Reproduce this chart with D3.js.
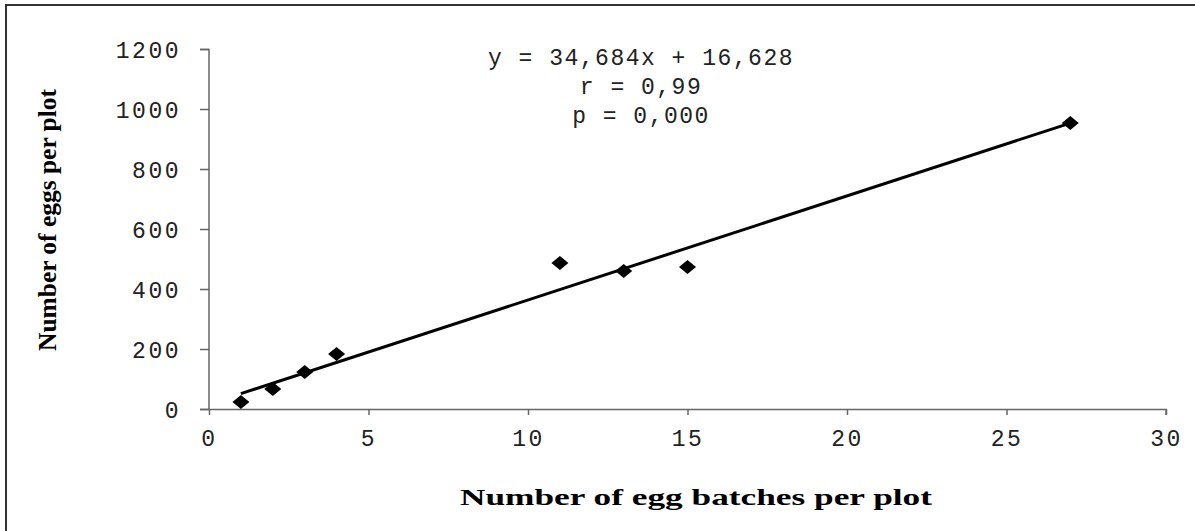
<!DOCTYPE html>
<html>
<head>
<meta charset="utf-8">
<script src="https://cdn.jsdelivr.net/npm/d3@7"></script>
<style>
  html, body { margin: 0; padding: 0; background: #fff; overflow: hidden; }
  .axis text { font-family: "Liberation Mono", monospace; font-size: 23px; fill: #222; letter-spacing: 2.5px; }
  .axis path, .axis line { stroke: #666; stroke-width: 1.5; }
</style>
</head>
<body>
<div id="chart"></div>
<script>
// Data
const batches = [1, 2, 3, 4, 11, 13, 15, 27];
const eggs = [23, 67, 123, 183, 487, 460, 473, 953];
const xTicks = [0, 5, 10, 15, 20, 25, 30];
const yTicks = [0, 200, 400, 600, 800, 1000, 1200];
const slope = 34.684;
const intercept = 16.628;
const statLines = ["y = 34,684x + 16,628", "r = 0,99", "p = 0,000"];

const W = 1195, H = 531;
const margin = { top: 49, right: 29, bottom: 122, left: 209 };
const width = W - margin.left - margin.right;
const height = H - margin.top - margin.bottom;

const svg = d3.select("#chart").append("svg")
  .attr("width", W)
  .attr("height", H);

// frame (only top/left edges fall inside the picture)
svg.append("rect")
  .attr("x", 6).attr("y", 5)
  .attr("width", W + 10).attr("height", H + 10)
  .attr("fill", "none")
  .attr("stroke", "#333")
  .attr("stroke-width", 2);

const g = svg.append("g")
  .attr("transform", `translate(${margin.left},${margin.top})`);

const x = d3.scaleLinear().domain([0, 30]).range([0, width]);
const y = d3.scaleLinear().domain([0, 1200]).range([height, 0]);

const xAxis = d3.axisBottom(x).tickValues(xTicks).tickFormat(d3.format("d"))
  .tickSize(6).tickPadding(15).tickSizeOuter(6);
const yAxis = d3.axisLeft(y).tickValues(yTicks).tickFormat(d3.format("d"))
  .tickSize(9).tickPadding(19).tickSizeOuter(9);

g.append("g").attr("class", "axis x")
  .attr("transform", `translate(0,${height})`)
  .call(xAxis)
  .call(a => a.select(".domain").attr("d", `M-9,0.5H${width}V6`));

g.append("g").attr("class", "axis y")
  .call(yAxis)
  .call(a => a.select(".domain").attr("d", `M-9,0.5H0V${height}`))
  .selectAll("text").attr("dy", "0.35em");

// regression line
const xExt = d3.extent(batches);
g.append("path")
  .datum(xExt.map(v => ({ x: v, y: slope * v + intercept })))
  .attr("d", d3.line().x(d => x(d.x)).y(d => y(d.y)))
  .attr("fill", "none")
  .attr("stroke", "#000")
  .attr("stroke-width", 3);

// diamond markers
g.append("g").selectAll("path")
  .data(batches.map((b, i) => ({ x: b, y: eggs[i] })))
  .join("path")
  .attr("transform", d => `translate(${x(d.x)},${y(d.y)})`)
  .attr("d", "M0,-7L8.5,0L0,7L-8.5,0Z")
  .attr("fill", "#000");

// regression stats
svg.append("g").selectAll("text")
  .data(statLines)
  .join("text")
  .attr("x", 641)
  .attr("y", (d, i) => 65 + i * 29)
  .attr("text-anchor", "middle")
  .style("font-family", "Liberation Mono, monospace")
  .style("font-size", "23px")
  .style("letter-spacing", "1.5px")
  .attr("fill", "#222")
  .text(d => d);

// axis titles
svg.append("text")
  .attr("x", 696).attr("y", 505)
  .attr("text-anchor", "middle")
  .attr("textLength", 472)
  .attr("lengthAdjust", "spacingAndGlyphs")
  .style("font-family", "Liberation Serif, serif")
  .style("font-weight", "bold")
  .style("font-size", "24px")
  .text("Number of egg batches per plot");

svg.append("text")
  .attr("transform", "translate(56,220) rotate(-90)")
  .attr("text-anchor", "middle")
  .attr("textLength", 262)
  .attr("lengthAdjust", "spacingAndGlyphs")
  .style("font-family", "Liberation Serif, serif")
  .style("font-weight", "bold")
  .style("font-size", "25px")
  .text("Number of eggs per plot");
</script>
</body>
</html>
